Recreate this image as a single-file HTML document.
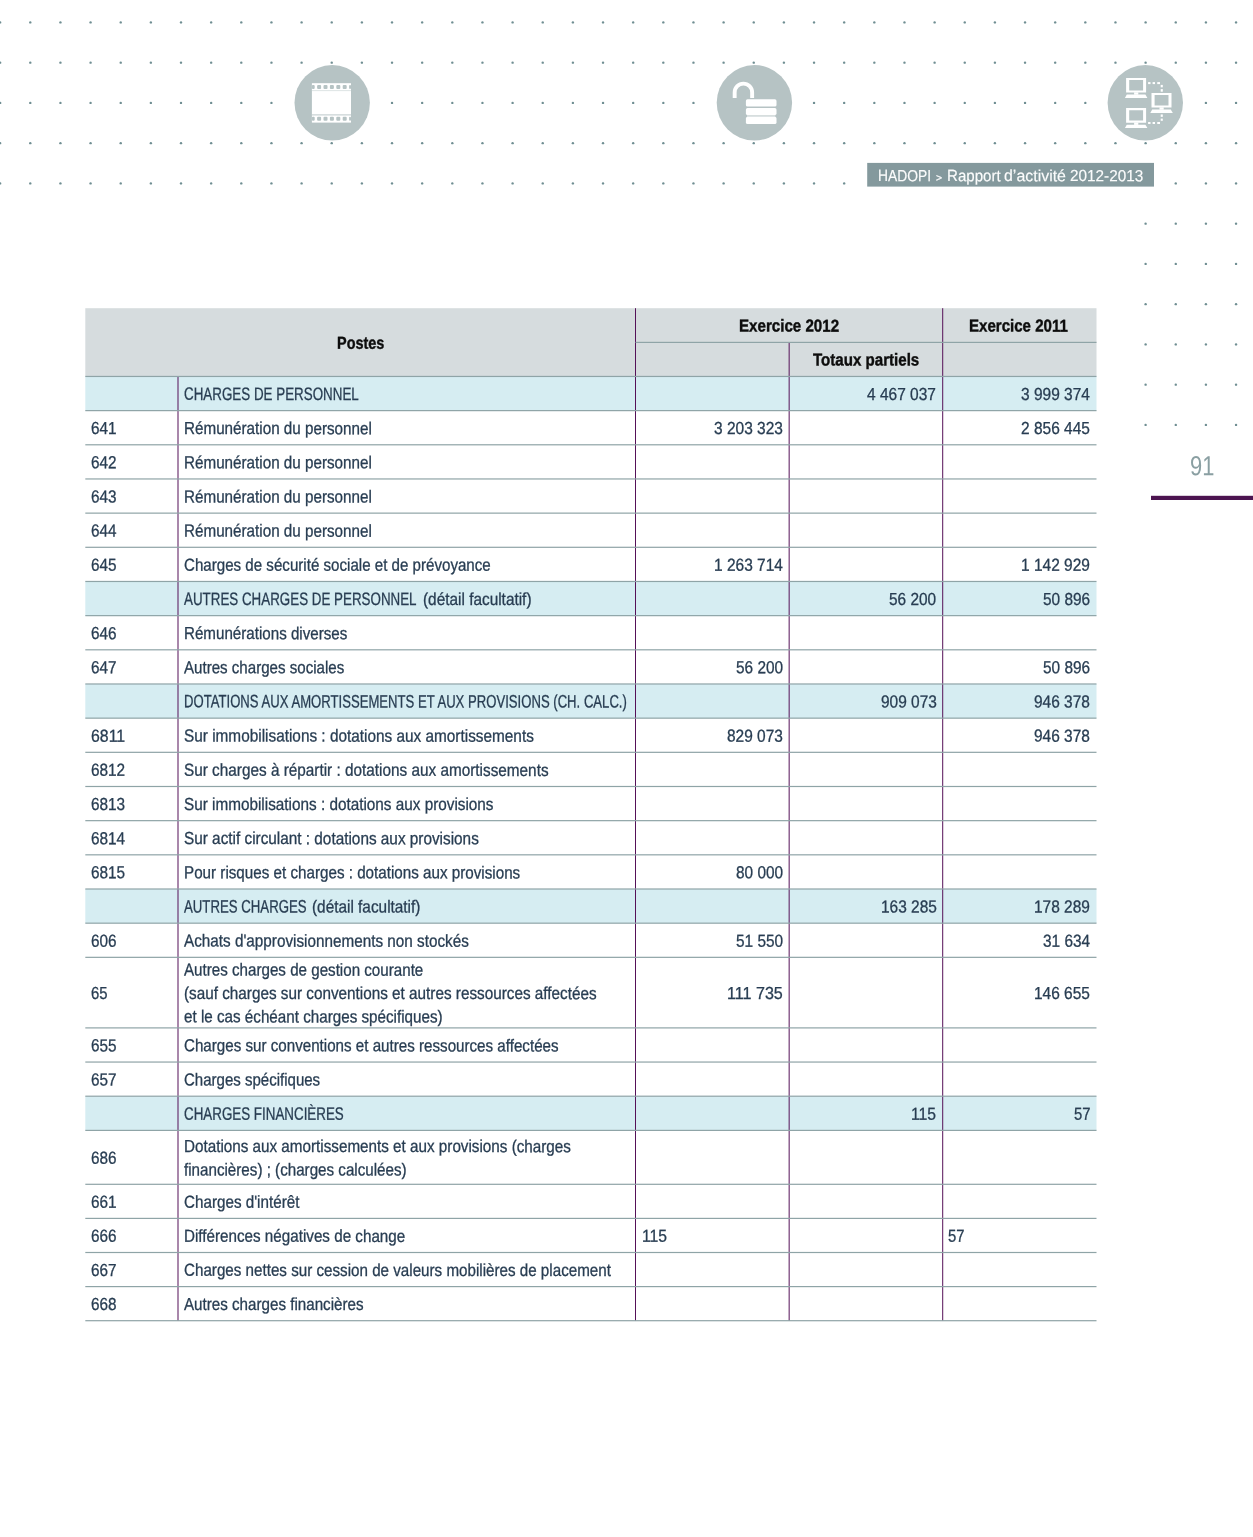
<!DOCTYPE html>
<html lang="fr"><head><meta charset="utf-8"><title>HADOPI - Rapport d'activité 2012-2013 - page 91</title>
<style>
html,body{margin:0;padding:0;background:#fff}
body{width:1253px;height:1537px;position:relative;overflow:hidden;font-family:"Liberation Sans",sans-serif;color:#283d52}
#bg{position:absolute;left:0;top:0}
.t{position:absolute;white-space:nowrap;font-size:17.4px;line-height:20px;height:20px;-webkit-text-stroke:0.3px currentColor}
.t span{display:inline-block;transform-origin:0 50%}
.r{text-align:right}
.r span{transform-origin:100% 50%}
.c{text-align:center}
.c span{transform-origin:50% 50%}
.h{font-weight:bold;color:#151515}
.bg{position:absolute}
.hl{position:absolute;height:1.3px;background:#8fa4a7}
.vl{position:absolute;width:1.4px;background:#7a3d86}
</style></head><body>

<svg id="bg" width="1253" height="1537" viewBox="0 0 1253 1537">
<g fill="#6f8e92">
<circle cx="0.15" cy="22.40" r="1.2"/>
<circle cx="30.29" cy="22.40" r="1.2"/>
<circle cx="60.44" cy="22.40" r="1.2"/>
<circle cx="90.58" cy="22.40" r="1.2"/>
<circle cx="120.73" cy="22.40" r="1.2"/>
<circle cx="150.87" cy="22.40" r="1.2"/>
<circle cx="181.01" cy="22.40" r="1.2"/>
<circle cx="211.16" cy="22.40" r="1.2"/>
<circle cx="241.30" cy="22.40" r="1.2"/>
<circle cx="271.45" cy="22.40" r="1.2"/>
<circle cx="301.59" cy="22.40" r="1.2"/>
<circle cx="331.73" cy="22.40" r="1.2"/>
<circle cx="361.88" cy="22.40" r="1.2"/>
<circle cx="392.02" cy="22.40" r="1.2"/>
<circle cx="422.17" cy="22.40" r="1.2"/>
<circle cx="452.31" cy="22.40" r="1.2"/>
<circle cx="482.45" cy="22.40" r="1.2"/>
<circle cx="512.60" cy="22.40" r="1.2"/>
<circle cx="542.74" cy="22.40" r="1.2"/>
<circle cx="572.89" cy="22.40" r="1.2"/>
<circle cx="603.03" cy="22.40" r="1.2"/>
<circle cx="633.17" cy="22.40" r="1.2"/>
<circle cx="663.32" cy="22.40" r="1.2"/>
<circle cx="693.46" cy="22.40" r="1.2"/>
<circle cx="723.61" cy="22.40" r="1.2"/>
<circle cx="753.75" cy="22.40" r="1.2"/>
<circle cx="783.89" cy="22.40" r="1.2"/>
<circle cx="814.04" cy="22.40" r="1.2"/>
<circle cx="844.18" cy="22.40" r="1.2"/>
<circle cx="874.33" cy="22.40" r="1.2"/>
<circle cx="904.47" cy="22.40" r="1.2"/>
<circle cx="934.61" cy="22.40" r="1.2"/>
<circle cx="964.76" cy="22.40" r="1.2"/>
<circle cx="994.90" cy="22.40" r="1.2"/>
<circle cx="1025.05" cy="22.40" r="1.2"/>
<circle cx="1055.19" cy="22.40" r="1.2"/>
<circle cx="1085.33" cy="22.40" r="1.2"/>
<circle cx="1115.48" cy="22.40" r="1.2"/>
<circle cx="1145.62" cy="22.40" r="1.2"/>
<circle cx="1175.77" cy="22.40" r="1.2"/>
<circle cx="1205.91" cy="22.40" r="1.2"/>
<circle cx="1236.05" cy="22.40" r="1.2"/>
<circle cx="0.15" cy="62.65" r="1.2"/>
<circle cx="30.29" cy="62.65" r="1.2"/>
<circle cx="60.44" cy="62.65" r="1.2"/>
<circle cx="90.58" cy="62.65" r="1.2"/>
<circle cx="120.73" cy="62.65" r="1.2"/>
<circle cx="150.87" cy="62.65" r="1.2"/>
<circle cx="181.01" cy="62.65" r="1.2"/>
<circle cx="211.16" cy="62.65" r="1.2"/>
<circle cx="241.30" cy="62.65" r="1.2"/>
<circle cx="271.45" cy="62.65" r="1.2"/>
<circle cx="301.59" cy="62.65" r="1.2"/>
<circle cx="331.73" cy="62.65" r="1.2"/>
<circle cx="361.88" cy="62.65" r="1.2"/>
<circle cx="392.02" cy="62.65" r="1.2"/>
<circle cx="422.17" cy="62.65" r="1.2"/>
<circle cx="452.31" cy="62.65" r="1.2"/>
<circle cx="482.45" cy="62.65" r="1.2"/>
<circle cx="512.60" cy="62.65" r="1.2"/>
<circle cx="542.74" cy="62.65" r="1.2"/>
<circle cx="572.89" cy="62.65" r="1.2"/>
<circle cx="603.03" cy="62.65" r="1.2"/>
<circle cx="633.17" cy="62.65" r="1.2"/>
<circle cx="663.32" cy="62.65" r="1.2"/>
<circle cx="693.46" cy="62.65" r="1.2"/>
<circle cx="723.61" cy="62.65" r="1.2"/>
<circle cx="753.75" cy="62.65" r="1.2"/>
<circle cx="783.89" cy="62.65" r="1.2"/>
<circle cx="814.04" cy="62.65" r="1.2"/>
<circle cx="844.18" cy="62.65" r="1.2"/>
<circle cx="874.33" cy="62.65" r="1.2"/>
<circle cx="904.47" cy="62.65" r="1.2"/>
<circle cx="934.61" cy="62.65" r="1.2"/>
<circle cx="964.76" cy="62.65" r="1.2"/>
<circle cx="994.90" cy="62.65" r="1.2"/>
<circle cx="1025.05" cy="62.65" r="1.2"/>
<circle cx="1055.19" cy="62.65" r="1.2"/>
<circle cx="1085.33" cy="62.65" r="1.2"/>
<circle cx="1115.48" cy="62.65" r="1.2"/>
<circle cx="1145.62" cy="62.65" r="1.2"/>
<circle cx="1175.77" cy="62.65" r="1.2"/>
<circle cx="1205.91" cy="62.65" r="1.2"/>
<circle cx="1236.05" cy="62.65" r="1.2"/>
<circle cx="0.15" cy="102.90" r="1.2"/>
<circle cx="30.29" cy="102.90" r="1.2"/>
<circle cx="60.44" cy="102.90" r="1.2"/>
<circle cx="90.58" cy="102.90" r="1.2"/>
<circle cx="120.73" cy="102.90" r="1.2"/>
<circle cx="150.87" cy="102.90" r="1.2"/>
<circle cx="181.01" cy="102.90" r="1.2"/>
<circle cx="211.16" cy="102.90" r="1.2"/>
<circle cx="241.30" cy="102.90" r="1.2"/>
<circle cx="271.45" cy="102.90" r="1.2"/>
<circle cx="301.59" cy="102.90" r="1.2"/>
<circle cx="331.73" cy="102.90" r="1.2"/>
<circle cx="361.88" cy="102.90" r="1.2"/>
<circle cx="392.02" cy="102.90" r="1.2"/>
<circle cx="422.17" cy="102.90" r="1.2"/>
<circle cx="452.31" cy="102.90" r="1.2"/>
<circle cx="482.45" cy="102.90" r="1.2"/>
<circle cx="512.60" cy="102.90" r="1.2"/>
<circle cx="542.74" cy="102.90" r="1.2"/>
<circle cx="572.89" cy="102.90" r="1.2"/>
<circle cx="603.03" cy="102.90" r="1.2"/>
<circle cx="633.17" cy="102.90" r="1.2"/>
<circle cx="663.32" cy="102.90" r="1.2"/>
<circle cx="693.46" cy="102.90" r="1.2"/>
<circle cx="723.61" cy="102.90" r="1.2"/>
<circle cx="753.75" cy="102.90" r="1.2"/>
<circle cx="783.89" cy="102.90" r="1.2"/>
<circle cx="814.04" cy="102.90" r="1.2"/>
<circle cx="844.18" cy="102.90" r="1.2"/>
<circle cx="874.33" cy="102.90" r="1.2"/>
<circle cx="904.47" cy="102.90" r="1.2"/>
<circle cx="934.61" cy="102.90" r="1.2"/>
<circle cx="964.76" cy="102.90" r="1.2"/>
<circle cx="994.90" cy="102.90" r="1.2"/>
<circle cx="1025.05" cy="102.90" r="1.2"/>
<circle cx="1055.19" cy="102.90" r="1.2"/>
<circle cx="1085.33" cy="102.90" r="1.2"/>
<circle cx="1115.48" cy="102.90" r="1.2"/>
<circle cx="1145.62" cy="102.90" r="1.2"/>
<circle cx="1175.77" cy="102.90" r="1.2"/>
<circle cx="1205.91" cy="102.90" r="1.2"/>
<circle cx="1236.05" cy="102.90" r="1.2"/>
<circle cx="0.15" cy="143.15" r="1.2"/>
<circle cx="30.29" cy="143.15" r="1.2"/>
<circle cx="60.44" cy="143.15" r="1.2"/>
<circle cx="90.58" cy="143.15" r="1.2"/>
<circle cx="120.73" cy="143.15" r="1.2"/>
<circle cx="150.87" cy="143.15" r="1.2"/>
<circle cx="181.01" cy="143.15" r="1.2"/>
<circle cx="211.16" cy="143.15" r="1.2"/>
<circle cx="241.30" cy="143.15" r="1.2"/>
<circle cx="271.45" cy="143.15" r="1.2"/>
<circle cx="301.59" cy="143.15" r="1.2"/>
<circle cx="331.73" cy="143.15" r="1.2"/>
<circle cx="361.88" cy="143.15" r="1.2"/>
<circle cx="392.02" cy="143.15" r="1.2"/>
<circle cx="422.17" cy="143.15" r="1.2"/>
<circle cx="452.31" cy="143.15" r="1.2"/>
<circle cx="482.45" cy="143.15" r="1.2"/>
<circle cx="512.60" cy="143.15" r="1.2"/>
<circle cx="542.74" cy="143.15" r="1.2"/>
<circle cx="572.89" cy="143.15" r="1.2"/>
<circle cx="603.03" cy="143.15" r="1.2"/>
<circle cx="633.17" cy="143.15" r="1.2"/>
<circle cx="663.32" cy="143.15" r="1.2"/>
<circle cx="693.46" cy="143.15" r="1.2"/>
<circle cx="723.61" cy="143.15" r="1.2"/>
<circle cx="753.75" cy="143.15" r="1.2"/>
<circle cx="783.89" cy="143.15" r="1.2"/>
<circle cx="814.04" cy="143.15" r="1.2"/>
<circle cx="844.18" cy="143.15" r="1.2"/>
<circle cx="874.33" cy="143.15" r="1.2"/>
<circle cx="904.47" cy="143.15" r="1.2"/>
<circle cx="934.61" cy="143.15" r="1.2"/>
<circle cx="964.76" cy="143.15" r="1.2"/>
<circle cx="994.90" cy="143.15" r="1.2"/>
<circle cx="1025.05" cy="143.15" r="1.2"/>
<circle cx="1055.19" cy="143.15" r="1.2"/>
<circle cx="1085.33" cy="143.15" r="1.2"/>
<circle cx="1115.48" cy="143.15" r="1.2"/>
<circle cx="1145.62" cy="143.15" r="1.2"/>
<circle cx="1175.77" cy="143.15" r="1.2"/>
<circle cx="1205.91" cy="143.15" r="1.2"/>
<circle cx="1236.05" cy="143.15" r="1.2"/>
<circle cx="0.15" cy="183.40" r="1.2"/>
<circle cx="30.29" cy="183.40" r="1.2"/>
<circle cx="60.44" cy="183.40" r="1.2"/>
<circle cx="90.58" cy="183.40" r="1.2"/>
<circle cx="120.73" cy="183.40" r="1.2"/>
<circle cx="150.87" cy="183.40" r="1.2"/>
<circle cx="181.01" cy="183.40" r="1.2"/>
<circle cx="211.16" cy="183.40" r="1.2"/>
<circle cx="241.30" cy="183.40" r="1.2"/>
<circle cx="271.45" cy="183.40" r="1.2"/>
<circle cx="301.59" cy="183.40" r="1.2"/>
<circle cx="331.73" cy="183.40" r="1.2"/>
<circle cx="361.88" cy="183.40" r="1.2"/>
<circle cx="392.02" cy="183.40" r="1.2"/>
<circle cx="422.17" cy="183.40" r="1.2"/>
<circle cx="452.31" cy="183.40" r="1.2"/>
<circle cx="482.45" cy="183.40" r="1.2"/>
<circle cx="512.60" cy="183.40" r="1.2"/>
<circle cx="542.74" cy="183.40" r="1.2"/>
<circle cx="572.89" cy="183.40" r="1.2"/>
<circle cx="603.03" cy="183.40" r="1.2"/>
<circle cx="633.17" cy="183.40" r="1.2"/>
<circle cx="663.32" cy="183.40" r="1.2"/>
<circle cx="693.46" cy="183.40" r="1.2"/>
<circle cx="723.61" cy="183.40" r="1.2"/>
<circle cx="753.75" cy="183.40" r="1.2"/>
<circle cx="783.89" cy="183.40" r="1.2"/>
<circle cx="814.04" cy="183.40" r="1.2"/>
<circle cx="844.18" cy="183.40" r="1.2"/>
<circle cx="874.33" cy="183.40" r="1.2"/>
<circle cx="904.47" cy="183.40" r="1.2"/>
<circle cx="934.61" cy="183.40" r="1.2"/>
<circle cx="964.76" cy="183.40" r="1.2"/>
<circle cx="994.90" cy="183.40" r="1.2"/>
<circle cx="1025.05" cy="183.40" r="1.2"/>
<circle cx="1055.19" cy="183.40" r="1.2"/>
<circle cx="1085.33" cy="183.40" r="1.2"/>
<circle cx="1115.48" cy="183.40" r="1.2"/>
<circle cx="1145.62" cy="183.40" r="1.2"/>
<circle cx="1175.77" cy="183.40" r="1.2"/>
<circle cx="1205.91" cy="183.40" r="1.2"/>
<circle cx="1236.05" cy="183.40" r="1.2"/>
<circle cx="1145.62" cy="223.65" r="1.2"/>
<circle cx="1175.77" cy="223.65" r="1.2"/>
<circle cx="1205.91" cy="223.65" r="1.2"/>
<circle cx="1236.05" cy="223.65" r="1.2"/>
<circle cx="1145.62" cy="263.90" r="1.2"/>
<circle cx="1175.77" cy="263.90" r="1.2"/>
<circle cx="1205.91" cy="263.90" r="1.2"/>
<circle cx="1236.05" cy="263.90" r="1.2"/>
<circle cx="1145.62" cy="304.15" r="1.2"/>
<circle cx="1175.77" cy="304.15" r="1.2"/>
<circle cx="1205.91" cy="304.15" r="1.2"/>
<circle cx="1236.05" cy="304.15" r="1.2"/>
<circle cx="1145.62" cy="344.40" r="1.2"/>
<circle cx="1175.77" cy="344.40" r="1.2"/>
<circle cx="1205.91" cy="344.40" r="1.2"/>
<circle cx="1236.05" cy="344.40" r="1.2"/>
<circle cx="1145.62" cy="384.65" r="1.2"/>
<circle cx="1175.77" cy="384.65" r="1.2"/>
<circle cx="1205.91" cy="384.65" r="1.2"/>
<circle cx="1236.05" cy="384.65" r="1.2"/>
<circle cx="1145.62" cy="424.90" r="1.2"/>
<circle cx="1175.77" cy="424.90" r="1.2"/>
<circle cx="1205.91" cy="424.90" r="1.2"/>
<circle cx="1236.05" cy="424.90" r="1.2"/>
</g>
<circle cx="332.2" cy="102.8" r="37.7" fill="#b6c3c4"/>
<circle cx="754.4" cy="102.8" r="37.7" fill="#b6c3c4"/>
<circle cx="1145.3" cy="102.8" r="37.7" fill="#b6c3c4"/>
<g id="film">
<rect x="311.9" y="83.2" width="39.1" height="39.4" fill="#fff"/>
<rect x="311.9" y="90.1" width="39.1" height="1" fill="#b6c3c4" opacity=".45"/>
<rect x="311.9" y="114.1" width="39.1" height="1.5" fill="#b6c3c4" opacity=".6"/>
<rect x="311.9" y="84.9" width="2.8" height="4" rx="1" fill="#b6c3c4"/>
<rect x="311.9" y="116.8" width="2.8" height="4" rx="1" fill="#b6c3c4"/>
<rect x="317.1" y="84.9" width="4.0" height="4" rx="1" fill="#b6c3c4"/>
<rect x="317.1" y="116.8" width="4.0" height="4" rx="1" fill="#b6c3c4"/>
<rect x="323.5" y="84.9" width="4.0" height="4" rx="1" fill="#b6c3c4"/>
<rect x="323.5" y="116.8" width="4.0" height="4" rx="1" fill="#b6c3c4"/>
<rect x="329.9" y="84.9" width="4.0" height="4" rx="1" fill="#b6c3c4"/>
<rect x="329.9" y="116.8" width="4.0" height="4" rx="1" fill="#b6c3c4"/>
<rect x="336.3" y="84.9" width="4.0" height="4" rx="1" fill="#b6c3c4"/>
<rect x="336.3" y="116.8" width="4.0" height="4" rx="1" fill="#b6c3c4"/>
<rect x="342.7" y="84.9" width="4.0" height="4" rx="1" fill="#b6c3c4"/>
<rect x="342.7" y="116.8" width="4.0" height="4" rx="1" fill="#b6c3c4"/>
<rect x="349.1" y="84.9" width="1.9" height="4" rx="1" fill="#b6c3c4"/>
<rect x="349.1" y="116.8" width="1.9" height="4" rx="1" fill="#b6c3c4"/>
</g>
<g id="lock">
<path d="M734.66 97.9 V92.4 A8.74 8.74 0 0 1 752.14 92.4 V97.9" fill="none" stroke="#fff" stroke-width="3.9"/>
<rect x="745.9" y="99.3" width="30.6" height="7.3" rx="1.6" fill="#fff"/>
<rect x="745.9" y="108.1" width="30.6" height="7.0" rx="1.6" fill="#fff"/>
<rect x="745.9" y="116.8" width="30.6" height="7.2" rx="1.6" fill="#fff"/>
<rect x="747" y="115.1" width="28.4" height="1.7" fill="#fff" opacity=".5"/>
</g>
<g id="net">
<g transform="translate(0,0)" fill="#fff"><path fill-rule="evenodd" d="M1126.1 77.9H1146.1V92.5H1126.1Z M1129.2 80.1V90.4H1143.1V80.1Z"/><rect x="1134.1" y="92.3" width="4.2" height="2.4"/><path d="M1126.8 94.5H1145.4L1147.4 97.9H1124.9Z"/></g>
<g transform="translate(0,30.2)" fill="#fff"><path fill-rule="evenodd" d="M1126.1 77.9H1146.1V92.5H1126.1Z M1129.2 80.1V90.4H1143.1V80.1Z"/><rect x="1134.1" y="92.3" width="4.2" height="2.4"/><path d="M1126.8 94.5H1145.4L1147.4 97.9H1124.9Z"/></g>
<g transform="translate(25.4,15)" fill="#fff"><path fill-rule="evenodd" d="M1126.1 77.9H1146.1V92.5H1126.1Z M1129.2 80.1V90.4H1143.1V80.1Z"/><rect x="1134.1" y="92.3" width="4.2" height="2.4"/><path d="M1126.8 94.5H1145.4L1147.4 97.9H1124.9Z"/></g>
<g fill="#fff">
<rect x="1148.1" y="82.1" width="2.40" height="2.00"/>
<rect x="1148.1" y="122.0" width="2.40" height="2.00"/>
<rect x="1152.6" y="82.1" width="2.40" height="2.00"/>
<rect x="1152.6" y="122.0" width="2.40" height="2.00"/>
<rect x="1157.25" y="82.1" width="2.75" height="2.00"/>
<rect x="1157.25" y="122.0" width="2.75" height="2.00"/>
<rect x="1160.7" y="84.9" width="2.1" height="2.40"/>
<rect x="1160.7" y="89.1" width="2.1" height="2.60"/>
<rect x="1160.7" y="114.45" width="2.1" height="2.40"/>
<rect x="1160.7" y="118.6" width="2.1" height="2.20"/>
</g>
</g>
<rect x="867.2" y="162.9" width="286.8" height="23.7" fill="#84999d"/>
<rect x="1151" y="495.8" width="102" height="4.2" fill="#4c1450"/>
</svg>
<div id="label">
<div class="t" style="left:877.60px;top:165px;font-size:16.2px;color:#fbfcfc;-webkit-text-stroke:0.15px currentColor;"><span id="s0" style="transform:matrix(0.8542,0.00052,0,1,0,0.12)">HADOPI</span></div>
<div class="t" style="left:935.60px;top:167px;font-size:10.5px;color:#fbfcfc;-webkit-text-stroke:0.3px currentColor;"><span id="s1" style="transform:matrix(0.9852,0.00052,0,1,0,0.26)">&gt;</span></div>
<div class="t" style="left:946.80px;top:165px;font-size:16.2px;color:#fbfcfc;-webkit-text-stroke:0.15px currentColor;"><span id="s2" style="transform:matrix(0.9311,0.00052,0,1,0,0.12)">Rapport</span></div>
<div class="t" style="left:1003.90px;top:165px;font-size:16.2px;color:#fbfcfc;-webkit-text-stroke:0.15px currentColor;"><span id="s3" style="transform:matrix(0.9838,0.00052,0,1,0,0.12)">d’activité</span></div>
<div class="t" style="left:1070.00px;top:165px;font-size:16.2px;color:#fbfcfc;-webkit-text-stroke:0.15px currentColor;"><span id="s4" style="transform:matrix(0.9453,0.00052,0,1,0,0.12)">2012-2013</span></div>
</div>
<div class="t" style="left:1189.70px;top:456px;font-size:27.6px;color:#8a9fa2;-webkit-text-stroke:0;"><span id="s5" style="transform:matrix(0.7932,0.00052,0,1,0,0.23)">91</span></div>
<svg style="position:absolute;left:0;top:0" width="1253" height="1537" viewBox="0 0 1253 1537">
<rect x="85.3" y="308.2" width="1011.2" height="68.25" fill="#d6dcde"/>
<rect x="85.3" y="376.45" width="1011.2" height="34.17" fill="#d6edf2"/>
<rect x="85.3" y="581.47" width="1011.2" height="34.17" fill="#d6edf2"/>
<rect x="85.3" y="683.98" width="1011.2" height="34.17" fill="#d6edf2"/>
<rect x="85.3" y="889.00" width="1011.2" height="34.17" fill="#d6edf2"/>
<rect x="85.3" y="1096.20" width="1011.2" height="34.20" fill="#d6edf2"/>
</svg>
<div class="t " style="left:183.7px;top:383px;width:440.0px;font-size:18px;"><span id="s6" style="transform:matrix(0.7436,0.00052,0,1,0,0.87)">CHARGES DE PERSONNEL</span></div>
<div class="t" style="left:867.40px;top:383px;font-size:17.4px;color:#283d52;-webkit-text-stroke:0.3px currentColor;"><span id="s7" style="transform:matrix(0.8911,0.00052,0,1,0,0.91)">4 467 037</span></div>
<div class="t" style="left:1021.10px;top:383px;font-size:17.4px;color:#283d52;-webkit-text-stroke:0.3px currentColor;"><span id="s8" style="transform:matrix(0.8911,0.00052,0,1,0,0.91)">3 999 374</span></div>
<div class="t" style="left:91.40px;top:418px;font-size:17.4px;color:#283d52;-webkit-text-stroke:0.3px currentColor;"><span id="s9" style="transform:matrix(0.8810,0.00052,0,1,0,0.10)">641</span></div>
<div class="t " style="left:183.7px;top:418px;width:440.0px;"><span id="s10" style="transform:matrix(0.8753,0.00052,0,1,0,0.05)">Rémunération du personnel</span></div>
<div class="t" style="left:713.80px;top:418px;font-size:17.4px;color:#283d52;-webkit-text-stroke:0.3px currentColor;"><span id="s11" style="transform:matrix(0.8911,0.00052,0,1,0,0.08)">3 203 323</span></div>
<div class="t" style="left:1021.10px;top:418px;font-size:17.4px;color:#283d52;-webkit-text-stroke:0.3px currentColor;"><span id="s12" style="transform:matrix(0.8911,0.00052,0,1,0,0.08)">2 856 445</span></div>
<div class="t" style="left:91.40px;top:452px;font-size:17.4px;color:#283d52;-webkit-text-stroke:0.3px currentColor;"><span id="s13" style="transform:matrix(0.8810,0.00052,0,1,0,0.27)">642</span></div>
<div class="t " style="left:183.7px;top:452px;width:440.0px;"><span id="s14" style="transform:matrix(0.8753,0.00052,0,1,0,0.22)">Rémunération du personnel</span></div>
<div class="t" style="left:91.40px;top:486px;font-size:17.4px;color:#283d52;-webkit-text-stroke:0.3px currentColor;"><span id="s15" style="transform:matrix(0.8810,0.00052,0,1,0,0.44)">643</span></div>
<div class="t " style="left:183.7px;top:486px;width:440.0px;"><span id="s16" style="transform:matrix(0.8753,0.00052,0,1,0,0.39)">Rémunération du personnel</span></div>
<div class="t" style="left:91.40px;top:520px;font-size:17.4px;color:#283d52;-webkit-text-stroke:0.3px currentColor;"><span id="s17" style="transform:matrix(0.8810,0.00052,0,1,0,0.61)">644</span></div>
<div class="t " style="left:183.7px;top:520px;width:440.0px;"><span id="s18" style="transform:matrix(0.8753,0.00052,0,1,0,0.56)">Rémunération du personnel</span></div>
<div class="t" style="left:91.40px;top:554px;font-size:17.4px;color:#283d52;-webkit-text-stroke:0.3px currentColor;"><span id="s19" style="transform:matrix(0.8810,0.00052,0,1,0,0.78)">645</span></div>
<div class="t " style="left:183.7px;top:554px;width:440.0px;"><span id="s20" style="transform:matrix(0.8693,0.00052,0,1,0,0.69)">Charges de sécurité sociale et de prévoyance</span></div>
<div class="t" style="left:713.80px;top:554px;font-size:17.4px;color:#283d52;-webkit-text-stroke:0.3px currentColor;"><span id="s21" style="transform:matrix(0.8911,0.00052,0,1,0,0.76)">1 263 714</span></div>
<div class="t" style="left:1021.10px;top:554px;font-size:17.4px;color:#283d52;-webkit-text-stroke:0.3px currentColor;"><span id="s22" style="transform:matrix(0.8911,0.00052,0,1,0,0.76)">1 142 929</span></div>
<div class="t" style="left:183.90px;top:588px;font-size:18.0px;color:#283d52;-webkit-text-stroke:0.3px currentColor;"><span id="s23" style="transform:matrix(0.7428,0.00052,0,1,0,0.87)">AUTRES CHARGES DE PERSONNEL</span></div>
<div class="t" style="left:422.80px;top:588px;font-size:17.4px;color:#283d52;-webkit-text-stroke:0.3px currentColor;"><span id="s24" style="transform:matrix(0.8840,0.00052,0,1,0,0.92)">(détail facultatif)</span></div>
<div class="t" style="left:889.30px;top:588px;font-size:17.4px;color:#283d52;-webkit-text-stroke:0.3px currentColor;"><span id="s25" style="transform:matrix(0.8846,0.00052,0,1,0,0.94)">56 200</span></div>
<div class="t" style="left:1043.00px;top:588px;font-size:17.4px;color:#283d52;-webkit-text-stroke:0.3px currentColor;"><span id="s26" style="transform:matrix(0.8846,0.00052,0,1,0,0.94)">50 896</span></div>
<div class="t" style="left:91.40px;top:623px;font-size:17.4px;color:#283d52;-webkit-text-stroke:0.3px currentColor;"><span id="s27" style="transform:matrix(0.8810,0.00052,0,1,0,0.12)">646</span></div>
<div class="t " style="left:183.7px;top:623px;width:440.0px;"><span id="s28" style="transform:matrix(0.8709,0.00052,0,1,0,0.08)">Rémunérations diverses</span></div>
<div class="t" style="left:91.40px;top:657px;font-size:17.4px;color:#283d52;-webkit-text-stroke:0.3px currentColor;"><span id="s29" style="transform:matrix(0.8810,0.00052,0,1,0,0.29)">647</span></div>
<div class="t " style="left:183.7px;top:657px;width:440.0px;"><span id="s30" style="transform:matrix(0.8679,0.00052,0,1,0,0.25)">Autres charges sociales</span></div>
<div class="t" style="left:735.70px;top:657px;font-size:17.4px;color:#283d52;-webkit-text-stroke:0.3px currentColor;"><span id="s31" style="transform:matrix(0.8846,0.00052,0,1,0,0.28)">56 200</span></div>
<div class="t" style="left:1043.00px;top:657px;font-size:17.4px;color:#283d52;-webkit-text-stroke:0.3px currentColor;"><span id="s32" style="transform:matrix(0.8846,0.00052,0,1,0,0.28)">50 896</span></div>
<div class="t " style="left:183.7px;top:691px;width:440.0px;font-size:18px;"><span id="s33" style="transform:matrix(0.7287,0.00052,0,1,0,0.31)">DOTATIONS AUX AMORTISSEMENTS ET AUX PROVISIONS (CH. CALC.)</span></div>
<div class="t" style="left:880.50px;top:691px;font-size:17.4px;color:#283d52;-webkit-text-stroke:0.3px currentColor;"><span id="s34" style="transform:matrix(0.8899,0.00052,0,1,0,0.45)">909 073</span></div>
<div class="t" style="left:1034.20px;top:691px;font-size:17.4px;color:#283d52;-webkit-text-stroke:0.3px currentColor;"><span id="s35" style="transform:matrix(0.8899,0.00052,0,1,0,0.45)">946 378</span></div>
<div class="t" style="left:91.40px;top:725px;font-size:17.4px;color:#283d52;-webkit-text-stroke:0.3px currentColor;"><span id="s36" style="transform:matrix(0.9115,0.00052,0,1,0,0.63)">6811</span></div>
<div class="t " style="left:183.7px;top:725px;width:440.0px;"><span id="s37" style="transform:matrix(0.8828,0.00052,0,1,0,0.53)">Sur immobilisations : dotations aux amortissements</span></div>
<div class="t" style="left:726.90px;top:725px;font-size:17.4px;color:#283d52;-webkit-text-stroke:0.3px currentColor;"><span id="s38" style="transform:matrix(0.8899,0.00052,0,1,0,0.62)">829 073</span></div>
<div class="t" style="left:1034.20px;top:725px;font-size:17.4px;color:#283d52;-webkit-text-stroke:0.3px currentColor;"><span id="s39" style="transform:matrix(0.8899,0.00052,0,1,0,0.62)">946 378</span></div>
<div class="t" style="left:91.40px;top:759px;font-size:17.4px;color:#283d52;-webkit-text-stroke:0.3px currentColor;"><span id="s40" style="transform:matrix(0.8828,0.00052,0,1,0,0.79)">6812</span></div>
<div class="t " style="left:183.7px;top:759px;width:440.0px;"><span id="s41" style="transform:matrix(0.8812,0.00052,0,1,0,0.70)">Sur charges à répartir : dotations aux amortissements</span></div>
<div class="t" style="left:91.40px;top:793px;font-size:17.4px;color:#283d52;-webkit-text-stroke:0.3px currentColor;"><span id="s42" style="transform:matrix(0.8828,0.00052,0,1,0,0.96)">6813</span></div>
<div class="t " style="left:183.7px;top:793px;width:440.0px;"><span id="s43" style="transform:matrix(0.8797,0.00052,0,1,0,0.88)">Sur immobilisations : dotations aux provisions</span></div>
<div class="t" style="left:91.40px;top:828px;font-size:17.4px;color:#283d52;-webkit-text-stroke:0.3px currentColor;"><span id="s44" style="transform:matrix(0.8828,0.00052,0,1,0,0.13)">6814</span></div>
<div class="t " style="left:183.7px;top:828px;width:440.0px;"><span id="s45" style="transform:matrix(0.8815,0.00052,0,1,0,0.06)">Sur actif circulant : dotations aux provisions</span></div>
<div class="t" style="left:91.40px;top:862px;font-size:17.4px;color:#283d52;-webkit-text-stroke:0.3px currentColor;"><span id="s46" style="transform:matrix(0.8828,0.00052,0,1,0,0.30)">6815</span></div>
<div class="t " style="left:183.7px;top:862px;width:440.0px;"><span id="s47" style="transform:matrix(0.8739,0.00052,0,1,0,0.21)">Pour risques et charges : dotations aux provisions</span></div>
<div class="t" style="left:735.70px;top:862px;font-size:17.4px;color:#283d52;-webkit-text-stroke:0.3px currentColor;"><span id="s48" style="transform:matrix(0.8846,0.00052,0,1,0,0.30)">80 000</span></div>
<div class="t" style="left:183.90px;top:896px;font-size:18.0px;color:#283d52;-webkit-text-stroke:0.3px currentColor;"><span id="s49" style="transform:matrix(0.7340,0.00052,0,1,0,0.44)">AUTRES CHARGES</span></div>
<div class="t" style="left:312.40px;top:896px;font-size:17.4px;color:#283d52;-webkit-text-stroke:0.3px currentColor;"><span id="s50" style="transform:matrix(0.8832,0.00052,0,1,0,0.45)">(détail facultatif)</span></div>
<div class="t" style="left:880.50px;top:896px;font-size:17.4px;color:#283d52;-webkit-text-stroke:0.3px currentColor;"><span id="s51" style="transform:matrix(0.8899,0.00052,0,1,0,0.47)">163 285</span></div>
<div class="t" style="left:1034.20px;top:896px;font-size:17.4px;color:#283d52;-webkit-text-stroke:0.3px currentColor;"><span id="s52" style="transform:matrix(0.8899,0.00052,0,1,0,0.47)">178 289</span></div>
<div class="t" style="left:91.40px;top:930px;font-size:17.4px;color:#283d52;-webkit-text-stroke:0.3px currentColor;"><span id="s53" style="transform:matrix(0.8810,0.00052,0,1,0,0.65)">606</span></div>
<div class="t " style="left:183.7px;top:930px;width:440.0px;"><span id="s54" style="transform:matrix(0.8784,0.00052,0,1,0,0.57)">Achats d'approvisionnements non stockés</span></div>
<div class="t" style="left:735.70px;top:930px;font-size:17.4px;color:#283d52;-webkit-text-stroke:0.3px currentColor;"><span id="s55" style="transform:matrix(0.8846,0.00052,0,1,0,0.64)">51 550</span></div>
<div class="t" style="left:1043.00px;top:930px;font-size:17.4px;color:#283d52;-webkit-text-stroke:0.3px currentColor;"><span id="s56" style="transform:matrix(0.8846,0.00052,0,1,0,0.64)">31 634</span></div>
<div class="t" style="left:91.40px;top:983px;font-size:17.4px;color:#283d52;-webkit-text-stroke:0.3px currentColor;"><span id="s57" style="transform:matrix(0.8543,0.00052,0,1,0,0.01)">65</span></div>
<div class="t " style="left:183.7px;top:959px;width:440.0px;"><span id="s58" style="transform:matrix(0.8715,0.00052,0,1,0,0.55)">Autres charges de gestion courante</span></div>
<div class="t " style="left:183.7px;top:983px;width:440.0px;"><span id="s59" style="transform:matrix(0.8788,0.00052,0,1,0,-0.10)">(sauf charges sur conventions et autres ressources affectées</span></div>
<div class="t " style="left:183.7px;top:1006px;width:440.0px;"><span id="s60" style="transform:matrix(0.8742,0.00052,0,1,0,0.34)">et le cas échéant charges spécifiques)</span></div>
<div class="t" style="left:726.90px;top:983px;font-size:17.4px;color:#283d52;-webkit-text-stroke:0.3px currentColor;"><span id="s61" style="transform:matrix(0.9258,0.00052,0,1,0,0.00)">111 735</span></div>
<div class="t" style="left:1034.20px;top:983px;font-size:17.4px;color:#283d52;-webkit-text-stroke:0.3px currentColor;"><span id="s62" style="transform:matrix(0.8899,0.00052,0,1,0,0.00)">146 655</span></div>
<div class="t" style="left:91.40px;top:1035px;font-size:17.4px;color:#283d52;-webkit-text-stroke:0.3px currentColor;"><span id="s63" style="transform:matrix(0.8810,0.00052,0,1,0,0.37)">655</span></div>
<div class="t " style="left:183.7px;top:1035px;width:440.0px;"><span id="s64" style="transform:matrix(0.8714,0.00052,0,1,0,0.26)">Charges sur conventions et autres ressources affectées</span></div>
<div class="t" style="left:91.40px;top:1069px;font-size:17.4px;color:#283d52;-webkit-text-stroke:0.3px currentColor;"><span id="s65" style="transform:matrix(0.8810,0.00052,0,1,0,0.52)">657</span></div>
<div class="t " style="left:183.7px;top:1069px;width:440.0px;"><span id="s66" style="transform:matrix(0.8638,0.00052,0,1,0,0.48)">Charges spécifiques</span></div>
<div class="t " style="left:183.7px;top:1103px;width:440.0px;font-size:18px;"><span id="s67" style="transform:matrix(0.7431,0.00052,0,1,0,0.64)">CHARGES FINANCIÈRES</span></div>
<div class="t" style="left:911.40px;top:1103px;font-size:17.4px;color:#283d52;-webkit-text-stroke:0.3px currentColor;"><span id="s68" style="transform:matrix(0.9036,0.00052,0,1,0,0.69)">115</span></div>
<div class="t" style="left:1073.60px;top:1103px;font-size:17.4px;color:#283d52;-webkit-text-stroke:0.3px currentColor;"><span id="s69" style="transform:matrix(0.8543,0.00052,0,1,0,0.69)">57</span></div>
<div class="t" style="left:91.40px;top:1147px;font-size:17.4px;color:#283d52;-webkit-text-stroke:0.3px currentColor;"><span id="s70" style="transform:matrix(0.8810,0.00052,0,1,0,0.74)">686</span></div>
<div class="t " style="left:183.7px;top:1136px;width:440.0px;"><span id="s71" style="transform:matrix(0.8759,0.00052,0,1,0,-0.06)">Dotations aux amortissements et aux provisions (charges</span></div>
<div class="t " style="left:183.7px;top:1159px;width:440.0px;"><span id="s72" style="transform:matrix(0.8725,0.00052,0,1,0,0.38)">financières) ; (charges calculées)</span></div>
<div class="t" style="left:91.40px;top:1191px;font-size:17.4px;color:#283d52;-webkit-text-stroke:0.3px currentColor;"><span id="s73" style="transform:matrix(0.8810,0.00052,0,1,0,0.74)">661</span></div>
<div class="t " style="left:183.7px;top:1191px;width:440.0px;"><span id="s74" style="transform:matrix(0.8751,0.00052,0,1,0,0.72)">Charges d'intérêt</span></div>
<div class="t" style="left:91.40px;top:1225px;font-size:17.4px;color:#283d52;-webkit-text-stroke:0.3px currentColor;"><span id="s75" style="transform:matrix(0.8810,0.00052,0,1,0,0.84)">666</span></div>
<div class="t " style="left:183.7px;top:1225px;width:440.0px;"><span id="s76" style="transform:matrix(0.8744,0.00052,0,1,0,0.78)">Différences négatives de change</span></div>
<div class="t" style="left:641.90px;top:1225px;font-size:17.4px;color:#283d52;-webkit-text-stroke:0.3px currentColor;"><span id="s77" style="transform:matrix(0.9036,0.00052,0,1,0,0.84)">115</span></div>
<div class="t" style="left:948.40px;top:1225px;font-size:17.4px;color:#283d52;-webkit-text-stroke:0.3px currentColor;"><span id="s78" style="transform:matrix(0.8543,0.00052,0,1,0,0.84)">57</span></div>
<div class="t" style="left:91.40px;top:1259px;font-size:17.4px;color:#283d52;-webkit-text-stroke:0.3px currentColor;"><span id="s79" style="transform:matrix(0.8810,0.00052,0,1,0,0.94)">667</span></div>
<div class="t " style="left:183.7px;top:1259px;width:440.0px;"><span id="s80" style="transform:matrix(0.8728,0.00052,0,1,0,0.82)">Charges nettes sur cession de valeurs mobilières de placement</span></div>
<div class="t" style="left:91.40px;top:1294px;font-size:17.4px;color:#283d52;-webkit-text-stroke:0.3px currentColor;"><span id="s81" style="transform:matrix(0.8810,0.00052,0,1,0,0.04)">668</span></div>
<div class="t " style="left:183.7px;top:1294px;width:440.0px;"><span id="s82" style="transform:matrix(0.8720,0.00052,0,1,0,-0.00)">Autres charges financières</span></div>
<div class="t" style="left:336.90px;top:332px;font-size:17.3px;color:#0d0d0d;-webkit-text-stroke:0.4px currentColor;font-weight:bold;"><span id="s83" style="transform:matrix(0.8353,0.00052,0,1,0,0.69)">Postes</span></div>
<div class="t" style="left:739.10px;top:315px;font-size:17.3px;color:#0d0d0d;-webkit-text-stroke:0.4px currentColor;font-weight:bold;"><span id="s84" style="transform:matrix(0.8749,0.00052,0,1,0,0.58)">Exercice 2012</span></div>
<div class="t" style="left:969.30px;top:315px;font-size:17.3px;color:#0d0d0d;-webkit-text-stroke:0.4px currentColor;font-weight:bold;"><span id="s85" style="transform:matrix(0.8715,0.00052,0,1,0,0.58)">Exercice 2011</span></div>
<div class="t" style="left:812.70px;top:349px;font-size:17.3px;color:#0d0d0d;-webkit-text-stroke:0.4px currentColor;font-weight:bold;"><span id="s86" style="transform:matrix(0.8736,0.00052,0,1,0,0.47)">Totaux partiels</span></div>
<svg style="position:absolute;left:0;top:0" width="1253" height="1537" viewBox="0 0 1253 1537">
<g fill="#551158">
<rect x="177.50" y="376.95" width="1.0" height="944.05"/>
<rect x="635.00" y="308.20" width="1.0" height="1012.80"/>
<rect x="788.65" y="342.90" width="1.0" height="978.10"/>
<rect x="942.20" y="308.20" width="1.0" height="1012.80"/>
</g>
<g fill="#8fa4a7">
<rect x="635.5" y="341.80" width="461.0" height="1.2"/>
<rect x="85.3" y="375.85" width="1011.2" height="1.2"/>
<rect x="85.3" y="410.02" width="1011.2" height="1.2"/>
<rect x="85.3" y="444.19" width="1011.2" height="1.2"/>
<rect x="85.3" y="478.36" width="1011.2" height="1.2"/>
<rect x="85.3" y="512.53" width="1011.2" height="1.2"/>
<rect x="85.3" y="546.70" width="1011.2" height="1.2"/>
<rect x="85.3" y="580.87" width="1011.2" height="1.2"/>
<rect x="85.3" y="615.04" width="1011.2" height="1.2"/>
<rect x="85.3" y="649.21" width="1011.2" height="1.2"/>
<rect x="85.3" y="683.38" width="1011.2" height="1.2"/>
<rect x="85.3" y="717.55" width="1011.2" height="1.2"/>
<rect x="85.3" y="751.72" width="1011.2" height="1.2"/>
<rect x="85.3" y="785.89" width="1011.2" height="1.2"/>
<rect x="85.3" y="820.06" width="1011.2" height="1.2"/>
<rect x="85.3" y="854.23" width="1011.2" height="1.2"/>
<rect x="85.3" y="888.40" width="1011.2" height="1.2"/>
<rect x="85.3" y="922.57" width="1011.2" height="1.2"/>
<rect x="85.3" y="956.74" width="1011.2" height="1.2"/>
<rect x="85.3" y="1027.30" width="1011.2" height="1.2"/>
<rect x="85.3" y="1061.45" width="1011.2" height="1.2"/>
<rect x="85.3" y="1095.60" width="1011.2" height="1.2"/>
<rect x="85.3" y="1129.80" width="1011.2" height="1.2"/>
<rect x="85.3" y="1183.70" width="1011.2" height="1.2"/>
<rect x="85.3" y="1217.80" width="1011.2" height="1.2"/>
<rect x="85.3" y="1251.90" width="1011.2" height="1.2"/>
<rect x="85.3" y="1286.00" width="1011.2" height="1.2"/>
<rect x="85.3" y="1320.10" width="1011.2" height="1.2"/>
</g></svg>
</body></html>
